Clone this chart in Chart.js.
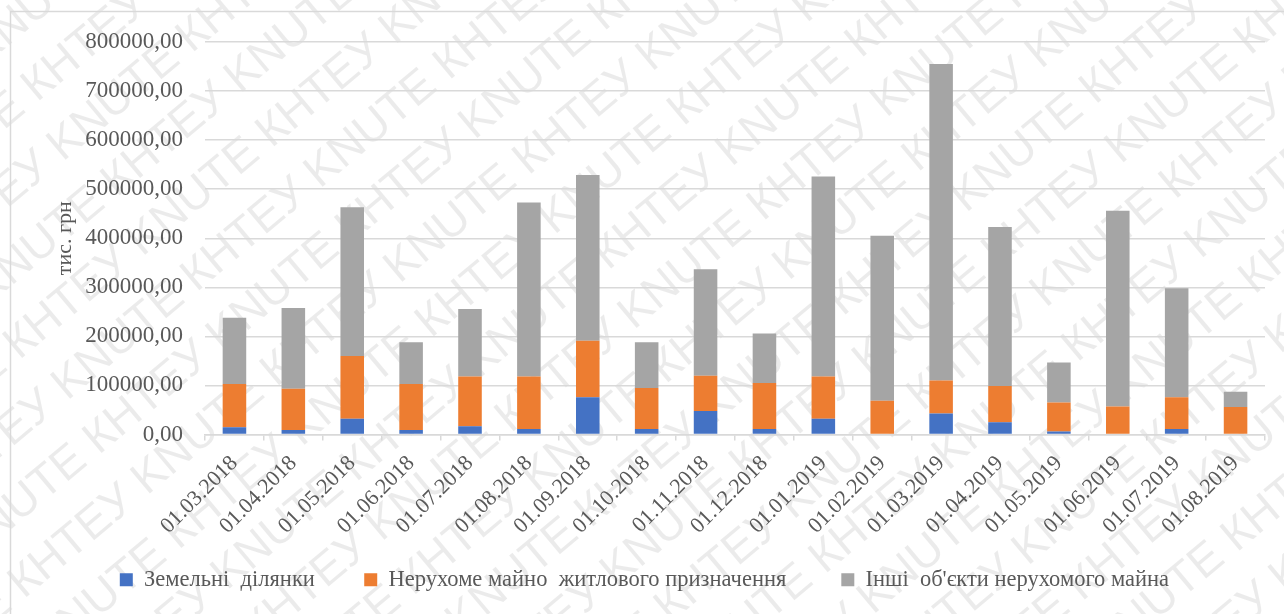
<!DOCTYPE html>
<html>
<head>
<meta charset="utf-8">
<script src="https://cdn.jsdelivr.net/npm/chart.js@4"></script>
<style>
  html, body { margin: 0; padding: 0; background: #fff; }
  #wrap { width: 1284px; height: 614px; position: relative; }
</style>
</head>
<body>
<div id="wrap"><canvas id="chart"></canvas></div>
<script>
// Дані діаграми
const months = ["01.03.2018", "01.04.2018", "01.05.2018", "01.06.2018", "01.07.2018", "01.08.2018",
  "01.09.2018", "01.10.2018", "01.11.2018", "01.12.2018", "01.01.2019", "01.02.2019",
  "01.03.2019", "01.04.2019", "01.05.2019", "01.06.2019", "01.07.2019", "01.08.2019"];
const land = [15000, 9000, 32000, 9000, 17000, 11000, 76000, 11000, 48000, 11000, 32000, 0, 43000, 25000, 6000, 0, 11000, 0];
const residential = [88000, 84000, 128000, 94000, 101000, 107000, 115000, 84000, 72000, 94000, 86000, 69000, 67000, 74000, 59000, 57000, 65000, 56000];
const otherRealty = [135000, 165000, 303000, 85000, 138000, 355000, 338000, 93000, 217000, 101000, 408000, 336000, 645000, 324000, 82000, 399000, 222000, 31000];

const textColor = "#595959";
const gridColor = "#d9d9d9";
const serif = "'Liberation Serif', 'Times New Roman', serif";

// Водяний знак і рамка
const backdrop = {
  id: "backdrop",
  beforeDraw(chart) {
    const ctx = chart.ctx;
    ctx.save();
    ctx.fillStyle = "rgba(0,0,0,0.08)";
    ctx.font = "46px 'Liberation Sans', Arial, sans-serif";
    ctx.translate(chart.width / 2, chart.height / 2);
    ctx.rotate(-40 * Math.PI / 180);
    const row = "КНТЕУ KNUTE КНТЕУ KNUTE КНТЕУ KNUTE КНТЕУ KNUTE КНТЕУ KNUTE ";
    for (let i = -12; i <= 12; i++) {
      ctx.fillText(row + row, -1500 + (i % 2) * 150, i * 62);
    }
    ctx.restore();
    ctx.save();
    ctx.strokeStyle = gridColor;
    ctx.lineWidth = 1.5;
    ctx.strokeRect(10.5, 11.5, 1400, 800);
    ctx.restore();
  }
};

function makeSet(label, data, color) {
  return {
    label: label,
    data: data,
    backgroundColor: color,
    borderWidth: 0,
    barPercentage: 0.4,
    categoryPercentage: 1.0
  };
}

new Chart(document.getElementById("chart"), {
  type: "bar",
  data: {
    labels: months,
    datasets: [
      makeSet("Земельні  ділянки", land, "#4472c4"),
      makeSet("Нерухоме майно  житлового призначення", residential, "#ed7d31"),
      makeSet("Інші  об'єкти нерухомого майна", otherRealty, "#a5a5a5")
    ]
  },
  options: {
    responsive: true,
    maintainAspectRatio: false,
    animation: false,
    layout: { padding: { left: 52, top: 42, right: 19, bottom: 13 } },
    plugins: {
      legend: {
        position: "bottom",
        labels: {
          color: textColor,
          font: { family: serif, size: 22.5 },
          boxWidth: 13,
          boxHeight: 13,
          padding: 10,
          // хвостові пробіли, як у підписах Excel
          generateLabels(chart) {
            const items = Chart.defaults.plugins.legend.labels.generateLabels(chart);
            const tails = ["       ", "        ", "     "];
            items.forEach((it, i) => { it.text = it.text + tails[i]; });
            return items;
          }
        }
      },
      tooltip: { enabled: false }
    },
    scales: {
      x: {
        stacked: true,
        offset: true,
        afterFit(scale) {
          scale.height = 124;
          scale.paddingLeft = 0;
          scale.paddingRight = 0;
        },
        grid: {
          offset: true,
          drawOnChartArea: false,
          drawTicks: true,
          tickLength: 6,
          color: gridColor,
          lineWidth: 1.5
        },
        border: { display: true, color: gridColor, width: 1.5 },
        ticks: {
          color: textColor,
          font: { family: serif, size: 22 },
          maxRotation: 45,
          minRotation: 45,
          padding: 10
        }
      },
      y: {
        stacked: true,
        min: 0,
        max: 800000,
        afterFit(scale) { scale.width = 153; },
        grid: { color: gridColor, lineWidth: 1.5, drawTicks: false },
        border: { display: false },
        ticks: {
          stepSize: 100000,
          color: textColor,
          font: { family: serif, size: 23 },
          padding: 22,
          callback: v => v.toFixed(2).replace(".", ",")
        },
        title: {
          display: true,
          text: "тис. грн",
          color: textColor,
          font: { family: serif, size: 22 },
          padding: { top: 0, bottom: 5 }
        }
      }
    }
  },
  plugins: [backdrop]
});
</script>
</body>
</html>
